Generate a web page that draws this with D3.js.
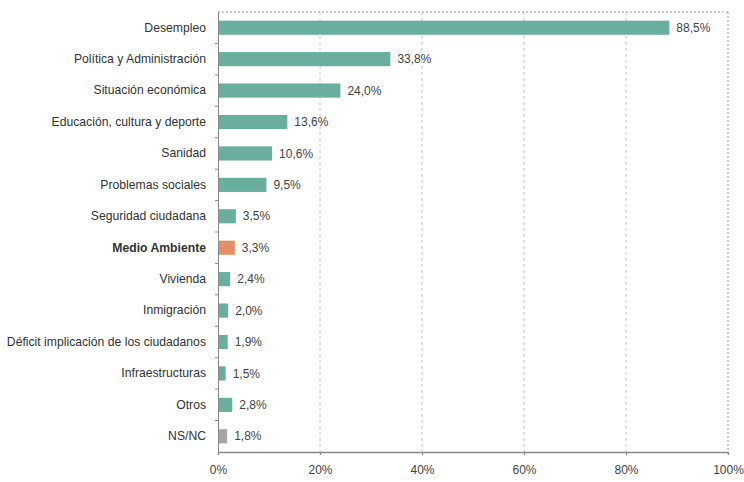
<!DOCTYPE html>
<html>
<head>
<meta charset="utf-8">
<script src="https://cdn.jsdelivr.net/npm/d3@7"></script>
<style>
  html, body { margin: 0; padding: 0; background: #fff; }
  svg { display: block; font-family: "Liberation Sans", Arial, sans-serif; }
</style>
</head>
<body>
<svg id="chart" width="744" height="482"></svg>
<script>
// Problemas percibidos (% de menciones)
const categories = [
  "Desempleo",
  "Política y Administración",
  "Situación económica",
  "Educación, cultura y deporte",
  "Sanidad",
  "Problemas sociales",
  "Seguridad ciudadana",
  "Medio Ambiente",
  "Vivienda",
  "Inmigración",
  "Déficit implicación de los ciudadanos",
  "Infraestructuras",
  "Otros",
  "NS/NC"
];
const values = [88.5, 33.8, 24.0, 13.6, 10.6, 9.5, 3.5, 3.3, 2.4, 2.0, 1.9, 1.5, 2.8, 1.8];
const xTicks = [0, 20, 40, 60, 80, 100];
const highlight = "Medio Ambiente";
const noAnswer = "NS/NC";

const colors = { base: "#69ae9f", highlight: "#e39068", none: "#a5a5a5" };

const svg = d3.select("#chart");
const margin = { top: 12, right: 16, bottom: 30, left: 218 };
const W = 744, H = 482;

const x = d3.scaleLinear().domain([0, 100]).range([margin.left, W - margin.right]);
const y = d3.scaleBand().domain(categories).range([margin.top, H - margin.bottom]).paddingInner(0.55).paddingOuter(0.275);

const fmt = v => d3.format(".1f")(v).replace(".", ",") + "%";
const y0 = margin.top, y1 = H - margin.bottom;

// Vertical dashed gridlines (the last one closes the frame)
svg.append("g").selectAll("line").data(xTicks.slice(1)).join("line")
  .attr("x1", d => x(d)).attr("x2", d => x(d))
  .attr("y1", y0).attr("y2", y1 + 4)
  .attr("stroke", d => d === 100 ? "#9a9a9a" : "#c4c4c4").attr("stroke-width", 1)
  .attr("stroke-dasharray", d => d === 100 ? "2,2" : "3,3");

// Dashed top border
svg.append("line")
  .attr("x1", x(0)).attr("x2", x(100)).attr("y1", y0).attr("y2", y0)
  .attr("stroke", "#9a9a9a").attr("stroke-width", 1).attr("stroke-dasharray", "2,2");

// Bars
svg.append("g").selectAll("rect").data(categories).join("rect")
  .attr("x", x(0))
  .attr("y", d => y(d))
  .attr("width", (d, i) => x(values[i]) - x(0))
  .attr("height", y.bandwidth())
  .attr("fill", d => d === highlight ? colors.highlight : d === noAnswer ? colors.none : colors.base);

// Value labels
svg.append("g").selectAll("text").data(categories).join("text")
  .attr("x", (d, i) => x(values[i]) + 7)
  .attr("y", d => y(d) + y.bandwidth() / 2)
  .attr("dy", "0.35em")
  .attr("font-size", 12)
  .attr("fill", "#444")
  .text((d, i) => fmt(values[i]));

// Category axis
const yAxis = d3.axisLeft(d3.scaleBand().domain(categories).range([y0, y1])).tickSize(0).tickPadding(12);
const gy = svg.append("g").attr("transform", `translate(${x(0)},0)`).call(yAxis);
gy.select(".domain").attr("stroke", "#888");
gy.selectAll("text")
  .attr("font-size", 12.2)
  .attr("fill", "#333")
  .attr("font-family", "'Liberation Sans', Arial, sans-serif")
  .attr("font-weight", d => d === highlight ? "bold" : "normal");

// Small ticks between categories
const step = (y1 - y0) / categories.length;
svg.append("g").selectAll("line").data(d3.range(1, categories.length)).join("line")
  .attr("x1", x(0) - 3).attr("x2", x(0))
  .attr("y1", i => y0 + i * step).attr("y2", i => y0 + i * step)
  .attr("stroke", "#888");

// Percentage axis
const xAxis = d3.axisBottom(x).tickValues(xTicks).tickFormat(d => d + "%").tickSize(3).tickPadding(10);
const gx = svg.append("g").attr("transform", `translate(0,${y1})`).call(xAxis);
gx.select(".domain").attr("stroke", "#888").attr("stroke-width", 1.3);
gx.selectAll(".tick line").attr("stroke", "#888");
gx.selectAll("text").attr("font-size", 12).attr("fill", "#444")
  .attr("font-family", "'Liberation Sans', Arial, sans-serif");
</script>
</body>
</html>
